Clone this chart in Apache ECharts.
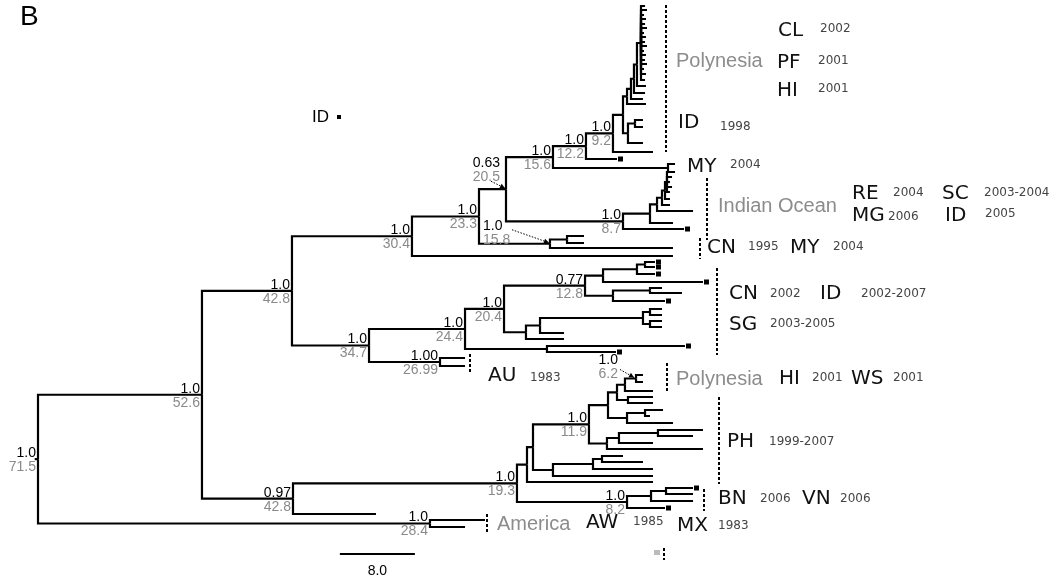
<!DOCTYPE html>
<html><head><meta charset="utf-8">
<script src="https://cdn.jsdelivr.net/npm/echarts@6/dist/echarts.min.js"></script>
<style>html,body{margin:0;padding:0;background:#fff}#c{width:1053px;height:580px}</style>
</head><body><div id="c"></div>
<script>
// Tree branches: [node, parent, distance from root (scale-bar units), leaf row (tips only)]
const branches = [
 ["R",null,0],
 ["A","R",17.49],
 ["B","A",27.09],
 ["D","B",39.89],
 ["F","D",47.04],
 ["G","F",49.92],
 ["I","G",54.93],
 ["K","I",58.45],
 ["L","K",61.33],
 ["X","L",62.40],
 ["P","X",62.83],
 ["P2","P",63.25],
 ["P3","P2",63.57],
 ["P4","P3",63.89],
 ["Pc","P4",64.32],
 ["Pc01","Pc",64.75,6],["Pc02","Pc",64.96,10],["Pc03","Pc",64.64,15],["Pc04","Pc",64.85,19],
 ["Pc05","Pc",64.75,24],["Pc06","Pc",64.96,28],["Pc07","Pc",64.64,33],["Pc08","Pc",64.85,37],
 ["Pc09","Pc",64.75,42],["Pc10","Pc",64.96,46],["Pc11","Pc",64.64,51],["Pc12","Pc",64.85,55],
 ["Pc13","Pc",64.75,60],["Pc14","Pc",64.96,64],["Pc15","Pc",64.64,69],["Pc16","Pc",64.85,74],
 ["Pc17","Pc",64.75,80],
 ["P4t","P4",64.85,86],
 ["P3t","P3",64.75,93],
 ["P2t","P2",64.53,99],
 ["Pt","P",64.85,104],
 ["Q","X",62.93],
 ["Q1","Q",63.68],
 ["Q1a","Q1",64.53,120],
 ["Q1b","Q1",64.53,127],
 ["Qt","Q",64.53,143],
 ["Lt","L",65.60,152],
 ["Ksq","K",61.76,159],
 ["MYn","I",67.20],
 ["MYa","MYn",67.95,164],
 ["MYb","MYn",67.95,172],
 ["J","G",62.40],
 ["J1","J",65.28],
 ["J2","J1",66.03],
 ["J3","J2",66.56],
 ["J4","J3",66.88],
 ["J5","J4",67.09],
 ["J5a","J5",67.41,172],["J5b","J5",67.63,177],["J5c","J5",67.41,182],["J5d","J5",67.63,187],["J5e","J5",67.41,192],
 ["J4t","J4",67.41,199],
 ["J3t","J3",67.41,205],
 ["J2t","J2",69.87,211],
 ["J1t","J1",67.73,223],
 ["Jsq","J",68.91,229],
 ["H","F",54.61],
 ["H1","H",56.43],
 ["H1a","H1",58.24,236],
 ["H1b","H1",58.24,243],
 ["Ht","H",67.73,248],
 ["Dt","D",67.73,256],
 ["E","B",35.31],
 ["M","E",45.55],
 ["N","M",49.71],
 ["O","N",58.35],
 ["O1","O",60.27],
 ["O1a","O1",63.89],
 ["O1b","O1a",64.75],
 ["O1b1","O1b",65.81,262],
 ["O1b2","O1b",65.81,267],
 ["O1at","O1a",65.81,274],
 ["O1t","O1",70.93,282],
 ["O2","O",61.33],
 ["O2a","O2",65.28],
 ["O2a1","O2a",66.56,288],
 ["O2a2","O2a",68.69,293],
 ["O2t","O2",66.88,301],
 ["Pp","N",52.05],
 ["Pp1","Pp",53.55],
 ["Pp2","Pp1",64.53],
 ["Pp3","Pp2",65.28],
 ["Pp3a","Pp3",66.56,309],
 ["Pp3b","Pp3",66.56,315],
 ["Pp4","Pp2",65.28],
 ["Pp4a","Pp4",66.56,321],
 ["Pp4b","Pp4",66.56,327],
 ["Pp1t","Pp1",56.11,333],
 ["Ppt","Pp",56.11,339],
 ["M2","M",54.29],
 ["M2a","M2",69.01,346],
 ["M2b","M2",61.65,352],
 ["AU","E",42.88],
 ["AUa","AU",45.55,358],
 ["AUb","AU",45.55,366],
 ["C","A",27.20],
 ["S","C",51.09],
 ["T","S",52.16],
 ["T1","T",52.80],
 ["V","T1",58.77],
 ["V1","V",60.80],
 ["V1a","V1",61.76],
 ["Vpa","V1a",62.61],
 ["Vpoly","Vpa",63.79],
 ["Vpoly1","Vpoly",64.53,375],
 ["Vpoly2","Vpoly",64.53,382],
 ["Vpat","Vpa",65.60,391],
 ["Vpb","V1a",62.93],
 ["Vpb1","Vpb",65.60,397],
 ["Vpb2","Vpb",65.60,403],
 ["V1b","V1",62.83],
 ["V1b1","V1b",64.75],
 ["V1b1a","V1b1",66.67,410],
 ["V1b1b","V1b1",65.28,416],
 ["V1bt","V1b",67.73,423],
 ["V2","V",60.69],
 ["V2a","V2",61.97],
 ["V2b","V2a",66.13],
 ["V2b1","V2b",70.93,430],
 ["V2b2","V2b",69.87,436],
 ["V2at","V2a",65.60,443],
 ["V2t","V2",70.93,449],
 ["W","T1",54.93],
 ["W1","W",59.20],
 ["W2","W1",60.16],
 ["W2a","W2",62.40,456],
 ["W2b","W2",64.53,462],
 ["W1t","W1",65.60,469],
 ["Wt","W",65.60,476],
 ["Tt","T",65.60,482],
 ["U","S",62.83],
 ["U1","U",65.39],
 ["U2","U1",66.99],
 ["U2a","U2",69.87,488],
 ["U2b","U2",69.87,494],
 ["U1t","U1",69.87,501],
 ["Usq","U",66.88,508],
 ["Ct","C",36.05,514],
 ["AM","R",41.81],
 ["AMa","AM",47.68,520],
 ["AMb","AM",45.55,527]
];
// tips marked with a square (ID samples)
const markedTips = ["Ksq","Jsq","M2a","M2b","O1b1","O1b2","O1at","O1t","O2t","Usq","U2a"];
// node labels: [node, posterior support, node height]
const nodeLabels = [
 ["R","1.0","71.5"],["A","1.0","52.6"],["B","1.0","42.8"],["D","1.0","30.4"],["F","1.0","23.3"],
 ["G","0.63","20.5"],["H","1.0","15.8"],["I","1.0","15.6"],["K","1.0","12.2"],["L","1.0","9.2"],
 ["J","1.0","8.7"],["E","1.0","34.7"],["M","1.0","24.4"],["N","1.0","20.4"],["O","0.77","12.8"],
 ["AU","1.00","26.99"],["Vpoly","1.0","6.2"],["V","1.0","11.9"],["S","1.0","19.3"],["U","1.0","8.2"],
 ["C","0.97","42.8"],["AM","1.0","28.4"]
];
const scaleBarLength = 8.0;
const scaleBarLabel = "8.0";

// ---------- layout (styling only below) ----------
const byId = {};
branches.forEach(([id,parent,dist,row])=>{ byId[id] = {id,parent,dist,row,children:[]}; });
branches.forEach(b=>{ if(b[1]) byId[b[1]].children.push(byId[b[0]]); });
function layoutY(n){
  if(!n.children.length) return n.y = n.row;
  const ys = n.children.map(layoutY);
  return n.y = (Math.min(...ys)+Math.max(...ys))/2;
}
const root = byId[branches[0][0]];
layoutY(root);
const edges = branches.filter(b=>b[1]).map(b=>{const n=byId[b[0]], p=byId[b[1]]; return [p.dist,p.y,n.dist,n.y];});
edges.push([root.dist-0.35, root.y, root.dist, root.y]);

const labelLayout = {
  G:{dx:-6,dy:-20,align:'right',arrow:[-15,-8,-1,-1]},
  H:{dx:-67,dy:-12,align:'left',arrow:[-38,-14,-1,-1]},
  Vpoly:{dx:-18,dy:-12,align:'right',arrow:[-16,-9,-2,-1]}
};
const numFont = '14px "Liberation Sans", Arial, sans-serif';
const codeFont = '20px "DejaVu Sans", Verdana, sans-serif';
const yearFont = '12px "DejaVu Sans", Verdana, sans-serif';
const regionFont = '20px "Liberation Sans", Arial, sans-serif';

const chart = echarts.init(document.getElementById('c'), null, {renderer:'canvas'});

function txt(text,x,y,font,fill){return {type:'text',x,y,silent:true,style:{text,font,fill,align:'left',verticalAlign:'middle'}};}
function dash(x,y1,y2){return {type:'line',silent:true,shape:{x1:x,y1:y1,x2:x,y2:y2},style:{stroke:'#000',lineWidth:2,lineDash:[3,2]}};}
const C='#111', Y='#444', G='#8c8c8c';
const graphics = [
  txt('B',20,17,'28px "Liberation Sans", Arial, sans-serif','#000'),
  txt('ID',312,117,'17px "Liberation Sans", Arial, sans-serif','#000'),
  {type:'rect',silent:true,shape:{x:337,y:115,width:4,height:4},style:{fill:'#000'}},
  dash(666,5,152), dash(707,178,240), dash(700,238,259), dash(717,268,355), dash(470,354,373),
  dash(667,363,393), dash(719,397,484), dash(704,489,511), dash(487,514,534), dash(664,548,560),
  {type:'rect',silent:true,shape:{x:654,y:550,width:6,height:5},style:{fill:'#bbb'}},
  txt('Polynesia',676,61,regionFont,G), txt('CL',778,31,codeFont,C), txt('2002',820,29,yearFont,Y),
  txt('PF',777,63,codeFont,C), txt('2001',818,61,yearFont,Y),
  txt('HI',777,91,codeFont,C), txt('2001',818,89,yearFont,Y),
  txt('ID',678,123,codeFont,C), txt('1998',720,127,yearFont,Y),
  txt('MY',687,167,codeFont,C), txt('2004',730,165,yearFont,Y),
  txt('Indian Ocean',718,206,regionFont,G),
  txt('RE',852,194,codeFont,C), txt('2004',893,193,yearFont,Y), txt('SC',942,194,codeFont,C), txt('2003-2004',984,193,yearFont,Y),
  txt('MG',852,216,codeFont,C), txt('2006',888,217,yearFont,Y), txt('ID',945,216,codeFont,C), txt('2005',985,214,yearFont,Y),
  txt('CN',707,248,codeFont,C), txt('1995',748,247,yearFont,Y), txt('MY',790,248,codeFont,C), txt('2004',833,247,yearFont,Y),
  txt('CN',729,294,codeFont,C), txt('2002',770,294,yearFont,Y), txt('ID',820,294,codeFont,C), txt('2002-2007',861,294,yearFont,Y),
  txt('SG',729,325,codeFont,C), txt('2003-2005',770,324,yearFont,Y),
  txt('AU',488,376,codeFont,C), txt('1983',530,378,yearFont,Y),
  txt('Polynesia',676,379,regionFont,G), txt('HI',779,379,codeFont,C), txt('2001',812,378,yearFont,Y),
  txt('WS',851,379,codeFont,C), txt('2001',893,378,yearFont,Y),
  txt('PH',727,442,codeFont,C), txt('1999-2007',769,442,yearFont,Y),
  txt('BN',718,499,codeFont,C), txt('2006',760,499,yearFont,Y), txt('VN',802,499,codeFont,C), txt('2006',840,499,yearFont,Y),
  txt('America',497,524,regionFont,G), txt('AW',586,523,codeFont,C), txt('1985',633,522,yearFont,Y),
  txt('MX',677,526,codeFont,C), txt('1983',718,526,yearFont,Y)
];

chart.setOption({
  animation:false,
  grid:{left:0.5,right:40,top:0,bottom:0},
  xAxis:{type:'value',min:-4,max:104,show:false},
  yAxis:{type:'value',min:0,max:580,inverse:true,show:false},
  graphic:graphics,
  series:[
    {type:'custom',coordinateSystem:'cartesian2d',clip:false,silent:true,data:edges,encode:{x:[0,2],y:[1,3]},
     renderItem:(params,api)=>{
       const a=api.coord([api.value(0),api.value(1)]);
       const b=api.coord([api.value(0),api.value(3)]);
       const c=api.coord([api.value(2),api.value(3)]);
       return {type:'polyline',shape:{points:[a,b,c]},style:{stroke:'#000',lineWidth:2.2,fill:'none',lineJoin:'miter'}};
     }},
    {type:'custom',coordinateSystem:'cartesian2d',clip:false,silent:true,
     data:markedTips.map(id=>[byId[id].dist,byId[id].y]),
     renderItem:(params,api)=>{
       const p=api.coord([api.value(0),api.value(1)]);
       return {type:'rect',shape:{x:p[0]+1,y:p[1]-2.5,width:5,height:5},style:{fill:'#000'}};
     }},
    {type:'custom',coordinateSystem:'cartesian2d',clip:false,silent:true,
     data:nodeLabels.map((l,i)=>[byId[l[0]].dist,byId[l[0]].y,i]),
     renderItem:(params,api)=>{
       const l=nodeLabels[api.value(2)];
       const p=api.coord([api.value(0),api.value(1)]);
       const o=labelLayout[l[0]]||{dx:-2,dy:0,align:'right'};
       const ax=p[0]+o.dx, ay=p[1]+o.dy;
       const ch=[
        {type:'text',x:ax,y:ay+1,style:{text:l[1],font:numFont,fill:'#000',align:o.align,verticalAlign:'bottom'}},
        {type:'text',x:ax,y:ay+1,style:{text:l[2],font:numFont,fill:'#8a8a8a',align:o.align,verticalAlign:'top'}}
       ];
       if(o.arrow){
         const sx=p[0]+o.arrow[0], sy=p[1]+o.arrow[1], ex=p[0]+o.arrow[2], ey=p[1]+o.arrow[3];
         ch.push({type:'line',shape:{x1:sx,y1:sy,x2:ex,y2:ey},style:{stroke:'#000',lineWidth:1,lineDash:[1.5,1.5]}});
         const ang=Math.atan2(ey-sy,ex-sx), L=5, W=2.5;
         const bx=ex-L*Math.cos(ang), by=ey-L*Math.sin(ang);
         ch.push({type:'polygon',shape:{points:[[ex,ey],[bx+W*Math.sin(ang),by-W*Math.cos(ang)],[bx-W*Math.sin(ang),by+W*Math.cos(ang)]]},style:{fill:'#000'}});
       }
       return {type:'group',children:ch};
     }},
    {type:'custom',coordinateSystem:'cartesian2d',clip:false,silent:true,
     data:[[32.2,554]],
     renderItem:(params,api)=>{
       const a=api.coord([api.value(0),api.value(1)]);
       const b=api.coord([api.value(0)+scaleBarLength,api.value(1)]);
       return {type:'group',children:[
         {type:'line',shape:{x1:a[0],y1:a[1],x2:b[0],y2:b[1]},style:{stroke:'#000',lineWidth:2}},
         {type:'text',x:(a[0]+b[0])/2,y:a[1]+17,style:{text:scaleBarLabel,font:numFont,fill:'#000',align:'center',verticalAlign:'middle'}}
       ]};
     }}
  ]
});
</script>
</body></html>
